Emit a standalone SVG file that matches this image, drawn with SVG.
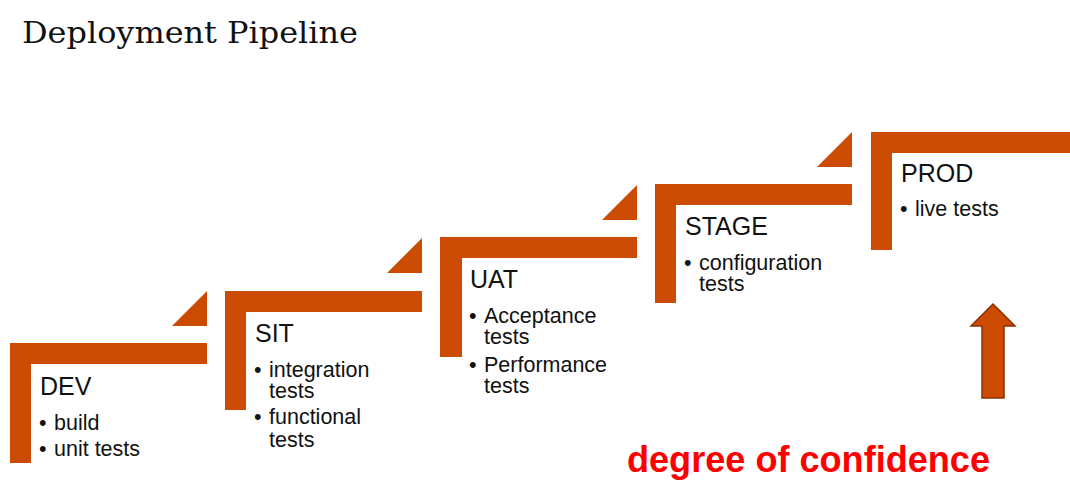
<svg xmlns="http://www.w3.org/2000/svg" width="1070" height="490" viewBox="0 0 1070 490">
<style>
.bar{fill:#CC4B02}
.lbl{font-family:"Liberation Sans",Arial,sans-serif;font-size:25px;fill:#111}
.bl{font-family:"Liberation Sans",Arial,sans-serif;font-size:21.5px;fill:#111}
.title{font-family:"DejaVu Serif","Liberation Serif",serif;font-size:29px;fill:#111}
.conf{font-family:"Liberation Sans",Arial,sans-serif;font-size:36px;font-weight:bold;fill:#FF0000}
</style>
<rect width="1070" height="490" fill="#fff"/>
<text class="title" x="22" y="43" textLength="336" lengthAdjust="spacingAndGlyphs">Deployment Pipeline</text>

<g id="dev">
<path class="bar" d="M10 343 h197 v21 h-176 v99 h-21 z"/>
<path class="bar" d="M172 326 L207 291 L207 326 z"/>
<text class="lbl" x="40" y="395">DEV</text>
<text class="bl"><tspan x="39" y="430">•</tspan><tspan x="54" y="430">build</tspan></text>
<text class="bl"><tspan x="39" y="456">•</tspan><tspan x="54" y="456">unit tests</tspan></text>
</g>

<g id="sit">
<path class="bar" d="M225 291 h197 v21 h-176 v98 h-21 z"/>
<path class="bar" d="M387 273 L422 238 L422 273 z"/>
<text class="lbl" x="255" y="342">SIT</text>
<text class="bl"><tspan x="254" y="377">•</tspan><tspan x="269" y="377">integration</tspan><tspan x="269" y="398">tests</tspan></text>
<text class="bl"><tspan x="254" y="424">•</tspan><tspan x="269" y="424">functional</tspan><tspan x="269" y="447">tests</tspan></text>
</g>

<g id="uat">
<path class="bar" d="M440 237 h197 v21 h-175 v99 h-22 z"/>
<path class="bar" d="M602 220 L637 185 L637 220 z"/>
<text class="lbl" x="470" y="288">UAT</text>
<text class="bl"><tspan x="469" y="323">•</tspan><tspan x="484" y="323">Acceptance</tspan><tspan x="484" y="344">tests</tspan></text>
<text class="bl"><tspan x="469" y="372">•</tspan><tspan x="484" y="372">Performance</tspan><tspan x="484" y="393">tests</tspan></text>
</g>

<g id="stage">
<path class="bar" d="M655 184 h197 v21 h-176 v98 h-21 z"/>
<path class="bar" d="M817 167 L852 132 L852 167 z"/>
<text class="lbl" x="685" y="235">STAGE</text>
<text class="bl"><tspan x="684" y="270">•</tspan><tspan x="699" y="270">configuration</tspan><tspan x="699" y="291">tests</tspan></text>
</g>

<g id="prod">
<path class="bar" d="M871 132 H1070 v21 H892 v97 h-21 z"/>
<text class="lbl" x="901" y="182">PROD</text>
<text class="bl"><tspan x="900" y="216">•</tspan><tspan x="915" y="216">live tests</tspan></text>
</g>

<g id="connectors">
<polygon points="993,304 1015,326 1004,326 1004,398 982,398 982,326 971,326" fill="#CC4B02" stroke="#8A3000" stroke-width="1.5" stroke-linejoin="miter"/>
</g>

<text class="conf" x="627" y="472" textLength="363" lengthAdjust="spacingAndGlyphs">degree of confidence</text>
</svg>
